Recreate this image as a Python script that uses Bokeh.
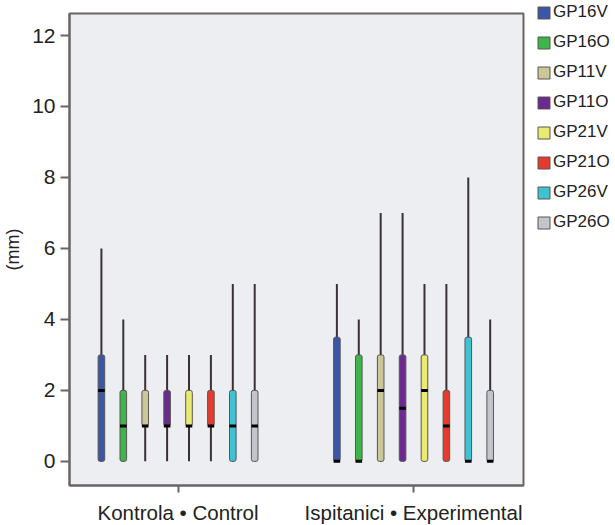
from bokeh.plotting import figure
from bokeh.models import FixedTicker, Legend, LegendItem, ColumnDataSource, Range1d
from bokeh.embed import file_html
from bokeh.resources import INLINE

groups = ["Kontrola • Control", "Ispitanici • Experimental"]
series = ["GP16V", "GP16O", "GP11V", "GP11O", "GP21V", "GP21O", "GP26V", "GP26O"]
colors = ["#3a56a8", "#3db54b", "#c9c896", "#6b2b8e", "#eaea72", "#e53b2f", "#3fc2d2", "#c2c5cc"]

# per group, per series: min, q1, median, q3, max
ctrl_min = [0, 0, 0, 0, 0, 0, 0, 0]
ctrl_q1 = [0, 0, 1, 1, 1, 1, 0, 0]
ctrl_med = [2, 1, 1, 1, 1, 1, 1, 1]
ctrl_q3 = [3, 2, 2, 2, 2, 2, 2, 2]
ctrl_max = [6, 4, 3, 3, 3, 3, 5, 5]

exp_min = [0, 0, 0, 0, 0, 0, 0, 0]
exp_q1 = [0, 0, 0, 0, 0, 0, 0, 0]
exp_med = [0, 0, 2, 1.5, 2, 1, 0, 0]
exp_q3 = [3.5, 3, 3, 3, 3, 2, 3.5, 2]
exp_max = [5, 4, 7, 7, 5, 5, 8, 4]

y_ticks = [0, 2, 4, 6, 8, 10, 12]

FONT = "Liberation Sans"
AX = "#6a6464"

p = figure(frame_width=454, frame_height=472, output_backend="svg", toolbar_location=None,
           x_range=Range1d(0.539, 2.467), y_range=Range1d(-0.68, 12.62),
           min_border_left=60, min_border_top=13, min_border_bottom=30, min_border_right=0)
p.background_fill_color = "#eceef1"
p.border_fill_color = "white"
p.outline_line_color = AX
p.outline_line_width = 2
p.grid.visible = False

step = 0.093
bw = 0.028
data = [(ctrl_min, ctrl_q1, ctrl_med, ctrl_q3, ctrl_max), (exp_min, exp_q1, exp_med, exp_q3, exp_max)]

renderers = []
for i, name in enumerate(series):
    xs = [g + 1 + (i - 3.5) * step for g in range(len(groups))]
    mn = [d[0][i] for d in data]
    q1 = [d[1][i] for d in data]
    md = [d[2][i] for d in data]
    q3 = [d[3][i] for d in data]
    mx = [d[4][i] for d in data]
    src = ColumnDataSource(dict(x=xs, mn=mn, q1=q1, md=md, q3=q3, mx=mx))
    p.segment(x0="x", x1="x", y0="mn", y1="mx", source=src, line_color="#3a3232", line_width=2)
    r = p.vbar(x="x", width=bw, bottom="q1", top="q3", source=src, fill_color=colors[i],
               line_color="#5a5555", line_width=1, border_radius=2)
    p.rect(x="x", y="md", width=bw, height=3, height_units="screen", source=src,
           fill_color="black", line_color=None)
    renderers.append(r)

p.xaxis.ticker = FixedTicker(ticks=[1, 2])
p.xaxis.major_label_overrides = {1: groups[0], 2: groups[1]}
p.yaxis.ticker = FixedTicker(ticks=y_ticks)
p.yaxis.axis_label = "(mm)"
for ax in [p.xaxis[0], p.yaxis[0]]:
    ax.axis_line_color = AX
    ax.axis_line_width = 2
    ax.major_tick_line_color = AX
    ax.major_tick_line_width = 2
    ax.major_tick_in = 0
    ax.minor_tick_line_color = None
    ax.major_label_text_font = FONT
    ax.major_label_text_color = "#222222"
    ax.axis_label_text_font = FONT
    ax.axis_label_text_font_style = "normal"
    ax.axis_label_text_color = "#222222"
p.yaxis.major_tick_out = 9
p.yaxis.major_label_standoff = 5
p.yaxis.major_label_text_font_size = "21px"
p.yaxis.axis_label_text_font_size = "18px"
p.yaxis.axis_label_standoff = 6
p.xaxis.major_tick_out = 7
p.xaxis.major_label_standoff = 8
p.xaxis.major_label_text_font_size = "20.5px"

legend = Legend(items=[LegendItem(label=s, renderers=[r]) for s, r in zip(series, renderers)],
                location=(13, 253), glyph_width=15, glyph_height=15, label_height=17,
                label_text_font=FONT, label_text_font_size="17px", label_text_color="#222222",
                spacing=10, padding=0, margin=0, label_standoff=2,
                border_line_color=None, background_fill_alpha=0)
p.add_layout(legend, "right")

open("out.html", "w").write(file_html(p, INLINE))
